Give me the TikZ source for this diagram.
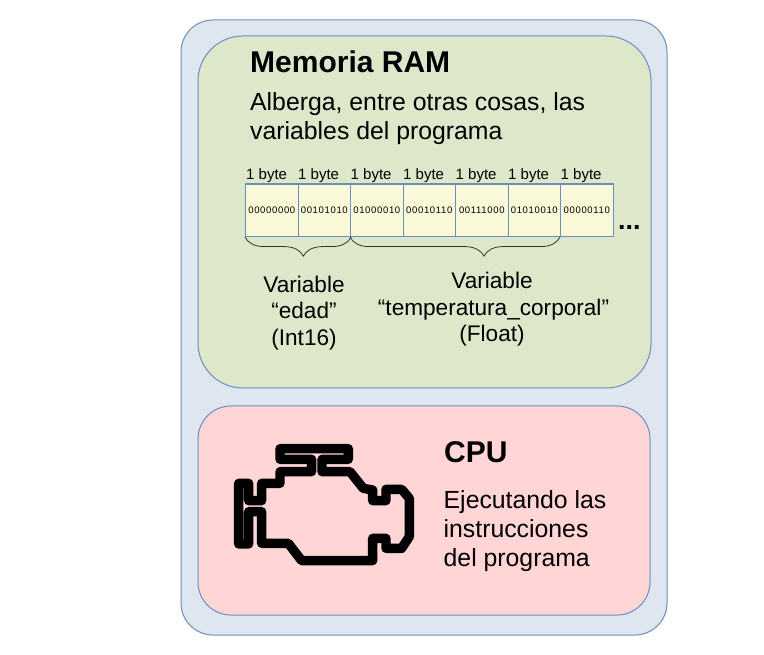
\documentclass[tikz,border=0pt]{standalone}
\usepackage{fontspec}
\setmainfont{Liberation Sans}
\newfontfamily\bytefont[LetterSpace=7]{Liberation Sans}
\usetikzlibrary{decorations.pathreplacing}
\definecolor{panelblue}{HTML}{DEE6F0}
\definecolor{panelgreen}{HTML}{DDE8CB}
\definecolor{panelpink}{HTML}{FFD5D5}
\definecolor{cellfill}{HTML}{F9F9D7}
\definecolor{edge}{HTML}{6C8EBF}
\definecolor{bracec}{HTML}{333333}
\tikzset{
  x=1pt,y=-1pt,
  panel/.style={draw=edge,line width=1pt},
  cell/.style={draw=edge,line width=1.1pt,fill=cellfill,minimum width=52.5pt,minimum height=52.5pt,inner sep=0pt,anchor=north west,font=\fontsize{9.5}{10}\bytefont},
  bytelabel/.style={anchor=base west,inner sep=0pt,font=\fontsize{15}{16}\selectfont},
  title/.style={anchor=base west,inner sep=0pt,font=\fontsize{30}{32}\selectfont\bfseries},
  body/.style={anchor=base west,inner sep=0pt,font=\fontsize{24.8}{28}\selectfont},
  varlabel/.style={anchor=base,inner sep=0pt,font=\fontsize{22.6}{26}\selectfont},
  bytebrace/.style={draw=bracec,line width=0.8pt,decorate,decoration={brace,mirror,amplitude=19pt,aspect=#1}},
  engine/.style={draw=black,line width=9.4pt,line join=round}
}
\begin{document}
\begin{tikzpicture}
\useasboundingbox (0,0) rectangle (764,655);
\fill[white] (0,0) rectangle (764,655);
\draw[panel,fill=panelblue,rounded corners=32pt] (181,20) rectangle (667,635);
\draw[panel,fill=panelgreen,rounded corners=45pt] (198,36) rectangle (651,388);
\draw[panel,fill=panelpink,rounded corners=33pt] (198,406) rectangle (650,615);

\node[title] (ramtitle) at (250,72.5) {Memoria RAM};
\node[body] (ramline1) at (250,110.7) {Alberga, entre otras cosas, las};
\node[body] (ramline2) at (250,139.7) {variables del programa};

\node[cell] (c1) at (245,183.5) {00000000};
\node[cell] (c2) at (297.5,183.5) {00101010};
\node[cell] (c3) at (350,183.5) {01000010};
\node[cell] (c4) at (402.5,183.5) {00010110};
\node[cell] (c5) at (455,183.5) {00111000};
\node[cell] (c6) at (507.5,183.5) {01010010};
\node[cell] (c7) at (560,183.5) {00000110};

\node[bytelabel] (b1) at (246,180) {1 byte};
\node[bytelabel] (b2) at (298,180) {1 byte};
\node[bytelabel] (b3) at (350.5,180) {1 byte};
\node[bytelabel] (b4) at (403,180) {1 byte};
\node[bytelabel] (b5) at (455.5,180) {1 byte};
\node[bytelabel] (b6) at (508,180) {1 byte};
\node[bytelabel] (b7) at (560.5,180) {1 byte};
\node[anchor=base west,inner sep=0pt,font=\fontsize{27}{30}\selectfont\bfseries] (dots) at (618,230) {...};

\draw[bytebrace=0.55] (c1.south west) -- (c2.south east);
\draw[bytebrace=0.638] (c3.south west) -- (c7.south west);

\node[varlabel] (va1) at (304,293) {Variable};
\node[varlabel] (va2) at (304,319) {“edad”};
\node[varlabel] (va3) at (304,346) {(Int16)};
\node[varlabel] (vb1) at (492,289) {Variable};
\node[varlabel] (vb2) at (493.5,316) {“temperatura\_corporal”};
\node[varlabel] (vb3) at (492,342) {(Float)};

\node[title] (cputitle) at (444,462.5) {CPU};
\node[body] (cpu1) at (443.5,508.5) {Ejecutando las};
\node[body] (cpu2) at (443.5,537.5) {instrucciones};
\node[body] (cpu3) at (443.5,566.5) {del programa};

\draw[engine,shift={(220,430)},x=0.3333pt,y=-0.3333pt]
  (290,56) -- (180,56) -- (180,88) -- (275,88) -- (275,125) -- (180,125) -- (180,160)
  -- (125,160) -- (125,212) -- (86,212) -- (86,160) -- (56,160) -- (56,342) -- (86,342)
  -- (86,245) -- (125,245) -- (125,340) -- (205,340) -- (245,392) -- (458,392) -- (458,325)
  -- (498,325) -- (498,355) -- (545,355) -- (568,320) -- (568,205) -- (545,178) -- (498,178)
  -- (498,212) -- (458,212) -- (458,180) -- (430,175) -- (390,125) -- (306,125) -- (306,88)
  -- (385,88) -- (385,56) -- cycle;
\end{tikzpicture}
\end{document}
